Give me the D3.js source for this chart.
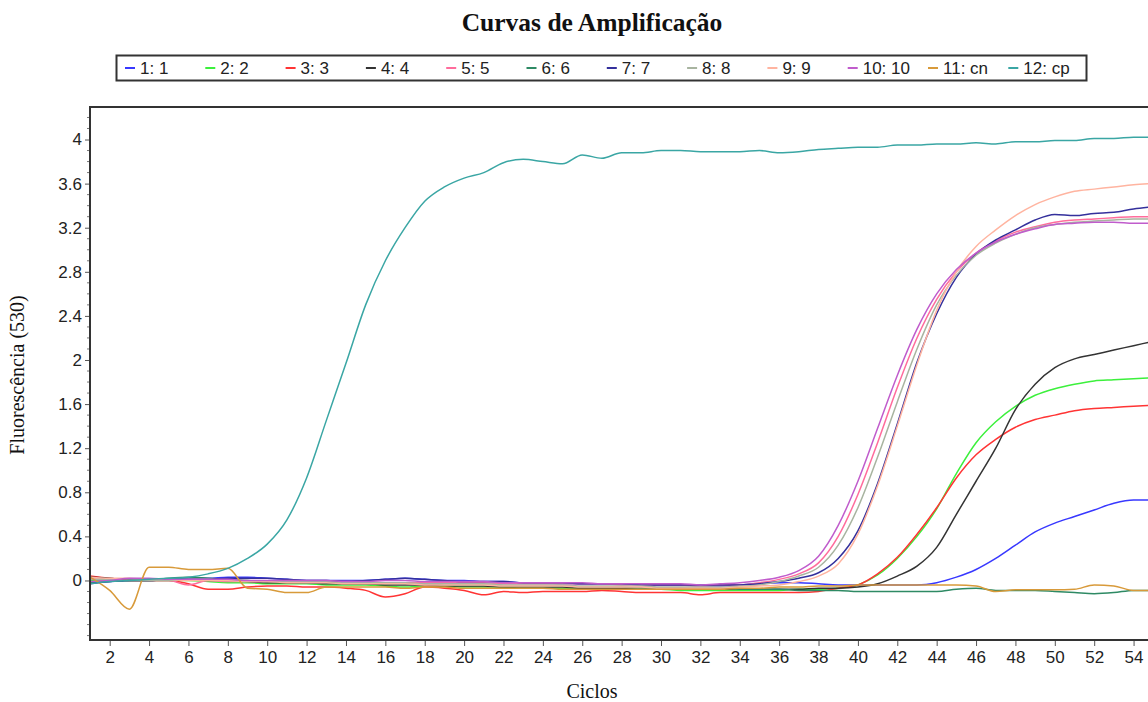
<!DOCTYPE html>
<html>
<head>
<meta charset="utf-8">
<script src="https://d3js.org/d3.v7.min.js"></script>
<style>
body { margin: 0; background: #fff; }
</style>
</head>
<body>
<script>
var w = 1148;
var h = 702;

// cycles 1..55, one value per cycle
var labels = ["1: 1", "2: 2", "3: 3", "4: 4", "5: 5", "6: 6", "7: 7", "8: 8", "9: 9", "10: 10", "11: cn", "12: cp"];
var colors = ["#3838ff", "#3cf03c", "#ff3434", "#333333", "#ff6c9c", "#2e8a64", "#34309c", "#a8b4a0", "#ffb4a0", "#c05ccc", "#d89a3a", "#3aa6a4"];

var s1 = [-0.02,-0.01,0.00,0.01,0.01,0.02,0.02,0.03,0.03,0.02, 0.01,0.00,0.00,0.00,0.00,0.01,0.02,0.01,0.00,0.00,
  -0.01,-0.01,-0.02,-0.02,-0.03,-0.03,-0.03,-0.03,-0.04,-0.04, -0.04,-0.05,-0.05,-0.04,-0.03,-0.02,-0.02,-0.03,-0.04,-0.04,
  -0.04,-0.04,-0.04,-0.02,0.03,0.10,0.20,0.32,0.44,0.52, 0.58,0.64,0.70,0.73,0.73];
var s2 = [0.00,0.00,0.00,0.00,0.00,0.00,-0.01,-0.02,-0.02,-0.03, -0.03,-0.03,-0.04,-0.04,-0.04,-0.05,-0.06,-0.05,-0.05,-0.06,
  -0.06,-0.06,-0.07,-0.07,-0.07,-0.07,-0.08,-0.08,-0.08,-0.08, -0.09,-0.09,-0.09,-0.09,-0.09,-0.09,-0.08,-0.08,-0.07,-0.04,
  0.05,0.20,0.40,0.65,0.97,1.25,1.44,1.58,1.68,1.74, 1.78,1.81,1.82,1.83,1.84];
var s3 = [0.04,0.02,0.00,0.00,0.00,-0.03,-0.08,-0.08,-0.06,-0.05, -0.05,-0.06,-0.06,-0.07,-0.09,-0.15,-0.12,-0.06,-0.07,-0.09,
  -0.13,-0.10,-0.11,-0.10,-0.10,-0.10,-0.09,-0.10,-0.11,-0.11, -0.11,-0.13,-0.11,-0.11,-0.11,-0.11,-0.11,-0.10,-0.07,-0.04,
  0.06,0.21,0.42,0.66,0.93,1.14,1.28,1.39,1.46,1.50, 1.54,1.56,1.57,1.58,1.59];
var s4 = [0.03,0.02,0.00,0.00,0.01,0.01,0.00,0.00,-0.01,-0.02, -0.02,-0.02,-0.03,-0.03,-0.03,-0.04,-0.04,-0.04,-0.05,-0.05,
  -0.05,-0.06,-0.06,-0.06,-0.06,-0.07,-0.07,-0.07,-0.07,-0.07, -0.07,-0.08,-0.08,-0.08,-0.08,-0.08,-0.08,-0.07,-0.07,-0.06,
  -0.03,0.04,0.13,0.30,0.60,0.90,1.20,1.55,1.78,1.93, 2.01,2.05,2.09,2.13,2.17];
var s5 = [0.02,0.00,0.00,0.00,0.00,-0.04,0.00,-0.01,-0.01,-0.01, -0.01,-0.01,-0.01,-0.01,-0.01,-0.02,-0.02,-0.02,-0.02,-0.02,
  -0.02,-0.03,-0.03,-0.03,-0.03,-0.03,-0.03,-0.04,-0.04,-0.04, -0.04,-0.05,-0.04,-0.04,-0.02,0.01,0.06,0.16,0.40,0.78,
  1.25,1.75,2.20,2.55,2.80,2.97,3.08,3.16,3.21,3.25, 3.27,3.28,3.29,3.30,3.30];
var s6 = [-0.02,-0.01,0.00,0.00,0.02,0.03,0.02,0.01,0.00,-0.01, -0.01,-0.02,-0.02,-0.02,-0.03,-0.03,-0.03,-0.03,-0.04,-0.04,
  -0.04,-0.05,-0.05,-0.05,-0.05,-0.06,-0.06,-0.06,-0.07,-0.07, -0.07,-0.07,-0.07,-0.08,-0.08,-0.08,-0.09,-0.09,-0.09,-0.10,
  -0.10,-0.10,-0.10,-0.10,-0.08,-0.07,-0.09,-0.09,-0.09,-0.10, -0.11,-0.12,-0.11,-0.09,-0.09];
var s7 = [-0.03,-0.01,0.00,0.00,0.01,0.01,0.01,0.02,0.02,0.02, 0.01,0.00,0.00,-0.01,0.00,0.01,0.02,0.01,0.00,-0.01,
  -0.01,-0.01,-0.02,-0.02,-0.02,-0.03,-0.03,-0.03,-0.04,-0.04, -0.04,-0.04,-0.04,-0.04,-0.03,-0.01,0.02,0.07,0.20,0.45,
  0.88,1.42,1.98,2.42,2.75,2.96,3.09,3.18,3.27,3.32, 3.31,3.33,3.34,3.37,3.39];
var s8 = [0.01,0.01,0.00,0.00,0.00,0.01,0.01,0.00,0.00,-0.01, -0.01,-0.01,-0.01,-0.02,-0.02,-0.02,-0.02,-0.03,-0.03,-0.03,
  -0.03,-0.04,-0.04,-0.04,-0.04,-0.05,-0.05,-0.05,-0.05,-0.06, -0.06,-0.06,-0.06,-0.05,-0.04,-0.01,0.04,0.12,0.32,0.66,
  1.12,1.62,2.10,2.50,2.77,2.95,3.06,3.14,3.20,3.23, 3.25,3.26,3.27,3.28,3.28];
var s9 = [0.03,0.02,0.02,0.01,0.01,0.00,0.00,0.00,-0.01,-0.01, -0.02,-0.02,-0.02,-0.03,-0.03,-0.03,-0.03,-0.04,-0.04,-0.04,
  -0.04,-0.05,-0.05,-0.05,-0.05,-0.06,-0.06,-0.06,-0.06,-0.07, -0.07,-0.07,-0.07,-0.06,-0.05,-0.04,-0.01,0.04,0.15,0.42,
  0.86,1.40,1.96,2.45,2.80,3.03,3.18,3.31,3.41,3.48, 3.53,3.55,3.57,3.59,3.60];
var s10 = [-0.01,0.00,0.02,0.02,0.01,0.01,0.01,0.01,0.00,0.00, 0.00,0.00,0.00,-0.01,-0.01,0.00,0.00,-0.01,-0.01,-0.01,
  -0.01,-0.02,-0.02,-0.02,-0.02,-0.02,-0.03,-0.03,-0.03,-0.03, -0.03,-0.04,-0.03,-0.02,0.00,0.03,0.09,0.22,0.50,0.90,
  1.38,1.86,2.28,2.60,2.82,2.97,3.07,3.14,3.19,3.23, 3.24,3.25,3.25,3.24,3.24];
var s11 = [0.03,-0.09,-0.26,0.12,0.12,0.10,0.10,0.11,-0.07,-0.08, -0.11,-0.11,-0.06,-0.06,-0.06,-0.06,-0.07,-0.06,-0.06,-0.07,
  -0.07,-0.07,-0.07,-0.07,-0.08,-0.08,-0.08,-0.08,-0.08,-0.08, -0.08,-0.08,-0.08,-0.07,-0.07,-0.06,-0.06,-0.05,-0.05,-0.04,
  -0.04,-0.04,-0.04,-0.04,-0.04,-0.05,-0.10,-0.085,-0.085,-0.085, -0.08,-0.04,-0.05,-0.09,-0.09];
var s12 = [-0.03,-0.01,0.00,0.01,0.02,0.03,0.06,0.11,0.20,0.33, 0.55,0.93,1.45,1.97,2.50,2.90,3.20,3.44,3.57,3.65,
  3.70,3.79,3.82,3.80,3.78,3.86,3.83,3.88,3.88,3.90, 3.90,3.89,3.89,3.89,3.90,3.88,3.89,3.91,3.92,3.93,
  3.93,3.95,3.95,3.96,3.96,3.97,3.96,3.98,3.98,3.99, 3.99,4.01,4.01,4.02,4.02];

var series = [s1, s2, s3, s4, s5, s6, s7, s8, s9, s10, s11, s12];

var xTicks = [2,4,6,8,10,12,14,16,18,20,22,24,26,28,30,32,34,36,38,40,42,44,46,48,50,52,54];
var yTicks = [0,0.4,0.8,1.2,1.6,2,2.4,2.8,3.2,3.6,4];
var yMinor = [-0.5,-0.4,-0.3,-0.2,-0.1,0.1,0.2,0.3,0.5,0.6,0.7,0.9,1.0,1.1,1.3,1.4,1.5,1.7,1.8,1.9,2.1,2.2,2.3,2.5,2.6,2.7,2.9,3.0,3.1,3.3,3.4,3.5,3.7,3.8,3.9,4.1,4.2];

var plotLeft = 90, plotTop = 107, plotBottom = 640;

var x = d3.scaleLinear().domain([1, 55]).range([plotLeft, plotLeft + 54 * 19.69]);
var y = d3.scaleLinear().domain([-0.54, 4.295]).range([plotBottom, plotTop]);

var svg = d3.select("body")
    .append("svg")
    .attr("width", w)
    .attr("height", h);

//---title-----
svg.append("text")
    .text("Curvas de Amplificação")
    .attr("x", 592)
    .attr("y", 31)
    .attr("text-anchor", "middle")
    .attr("font-size", 25.5)
    .attr("font-weight", "bold")
    .attr("font-family", "Liberation Serif")
    .attr("fill", "#111");

//---legend-----
svg.append("rect")
    .attr("x", 116.5)
    .attr("y", 55.5)
    .attr("width", 970)
    .attr("height", 25)
    .attr("fill", "none")
    .attr("stroke", "#333")
    .attr("stroke-width", 2);

var leg = svg.append("g").selectAll("g")
    .data(labels)
    .join("g")
    .attr("transform", function (d, i) { return "translate(" + (125 + i * 80.3) + ",68)"; });

leg.append("line")
    .attr("x1", 0).attr("x2", 10)
    .attr("stroke", function (d, i) { return colors[i]; })
    .attr("stroke-width", 2);

leg.append("text")
    .text(function (d) { return d; })
    .attr("x", 15)
    .attr("y", 6)
    .attr("font-size", 17)
    .attr("font-family", "Liberation Sans")
    .attr("fill", "#222");

//---curves-----
svg.append("clipPath").attr("id", "plot")
    .append("rect")
    .attr("x", plotLeft).attr("y", plotTop)
    .attr("width", w - plotLeft).attr("height", plotBottom - plotTop);

var line = d3.line()
    .curve(d3.curveMonotoneX)
    .x(function (d, i) { return x(i + 1); })
    .y(function (d) { return y(d); });

svg.append("g")
    .attr("clip-path", "url(#plot)")
    .selectAll("path")
    .data(series)
    .join("path")
    .attr("d", line)
    .attr("fill", "none")
    .attr("stroke", function (d, i) { return colors[i]; })
    .attr("stroke-width", 1.5);

//---axes-----
var xAxis = d3.axisBottom(x).tickValues(xTicks).tickSize(6).tickPadding(5);
var gx = svg.append("g")
    .attr("transform", "translate(0," + plotBottom + ")")
    .call(xAxis);
gx.select(".domain").remove();
gx.selectAll(".tick line").attr("stroke", "#555");
gx.selectAll(".tick text")
    .attr("font-size", 17)
    .attr("font-family", "Liberation Sans")
    .attr("fill", "#222");

var yAxis = d3.axisLeft(y).tickValues(yTicks).tickSize(5).tickPadding(3)
    .tickFormat(function (d) { return String(d); });
var gy = svg.append("g")
    .attr("transform", "translate(" + plotLeft + ",0)")
    .call(yAxis);
gy.select(".domain").remove();
gy.selectAll(".tick line").attr("stroke", "#555");
gy.selectAll(".tick text")
    .attr("font-size", 17)
    .attr("font-family", "Liberation Sans")
    .attr("fill", "#222");

svg.append("g").selectAll("line")
    .data(yMinor)
    .join("line")
    .attr("x1", plotLeft - 3).attr("x2", plotLeft)
    .attr("y1", function (d) { return y(d); })
    .attr("y2", function (d) { return y(d); })
    .attr("stroke", "#777");

// plot frame
svg.append("path")
    .attr("d", "M" + w + "," + plotTop + "H" + plotLeft + "V" + plotBottom + "H" + w)
    .attr("fill", "none")
    .attr("stroke", "#333")
    .attr("stroke-width", 2);

//---axis titles-----
svg.append("text")
    .text("Ciclos")
    .attr("x", 592)
    .attr("y", 698)
    .attr("text-anchor", "middle")
    .attr("font-size", 20)
    .attr("font-family", "Liberation Serif")
    .attr("fill", "#111");

svg.append("text")
    .text("Fluorescência (530)")
    .attr("transform", "translate(24,375) rotate(-90)")
    .attr("text-anchor", "middle")
    .attr("font-size", 20)
    .attr("font-family", "Liberation Serif")
    .attr("fill", "#111");
</script>
</body>
</html>
